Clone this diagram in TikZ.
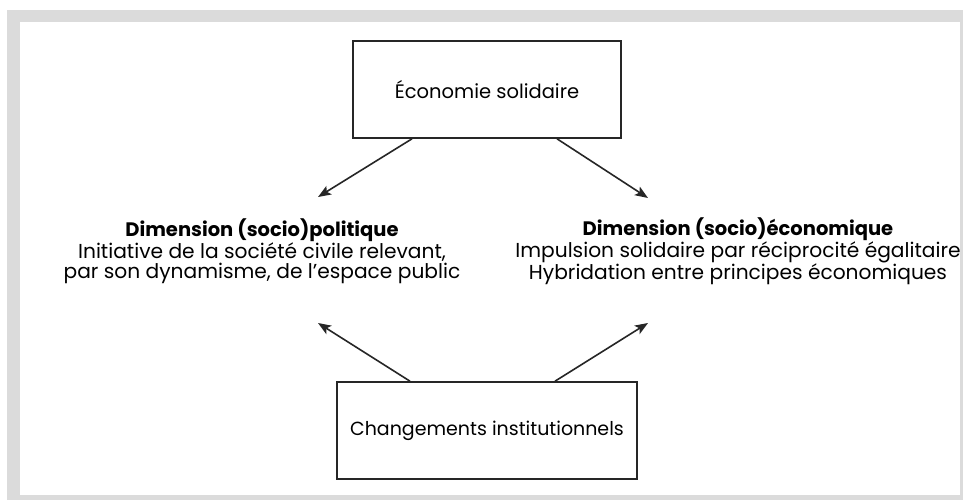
\documentclass[tikz,border=0pt]{standalone}
\usepackage{fontspec}
\setmainfont{Poppins}
\usetikzlibrary{arrows.meta}
\newcommand{\ttlsize}{\fontsize{19.5}{19.5}\selectfont}
\begin{document}
\begin{tikzpicture}[x=1pt,y=-1pt,
  box/.style={draw=black!85, line width=1.6pt, fill=white, inner sep=0pt},
  arr/.style={draw=black!85, line width=1.6pt, -{Stealth[length=13pt,width=10pt,inset=3pt]}},
  txt/.style={align=center, inner sep=0pt, font=\fontsize{20.2}{19.5}\selectfont},
  lbl/.style={font=\fontsize{19.5}{22}\selectfont}]
\useasboundingbox (0,0) rectangle (966,502);
\fill[white] (0,0) rectangle (966,502);
\fill[black!14] (7,10) rectangle (963,500);
\fill[white] (20,22) rectangle (960,495);
\node[box, minimum width=268pt, minimum height=97pt, lbl] (eco) at (487,89.5) {Économie solidaire};
\node[box, minimum width=300pt, minimum height=97pt, lbl, font=\fontsize{19}{22}\selectfont] (chg) at (487,430.5) {Changements institutionnels};
\node[txt] (pol) at (262,251) {{\ttlsize\textbf{Dimension (socio)politique}}\\Initiative de la société civile relevant,\\par son dynamisme, de l’espace public};
\node[txt] (ecn) at (738,251) {{\ttlsize\textbf{Dimension (socio)économique}}\\Impulsion solidaire par réciprocité égalitaire\\Hybridation entre principes économiques};
\coordinate (tl) at (318,197);
\coordinate (tr) at (648,198);
\coordinate (bl) at (318,323);
\coordinate (br) at (648,323);
\draw[arr] ([xshift=-75pt]eco.south) -- (tl);
\draw[arr] ([xshift=70pt]eco.south) -- (tr);
\draw[arr] ([xshift=-77pt]chg.north) -- (bl);
\draw[arr] ([xshift=68pt]chg.north) -- (br);
\end{tikzpicture}
\end{document}
